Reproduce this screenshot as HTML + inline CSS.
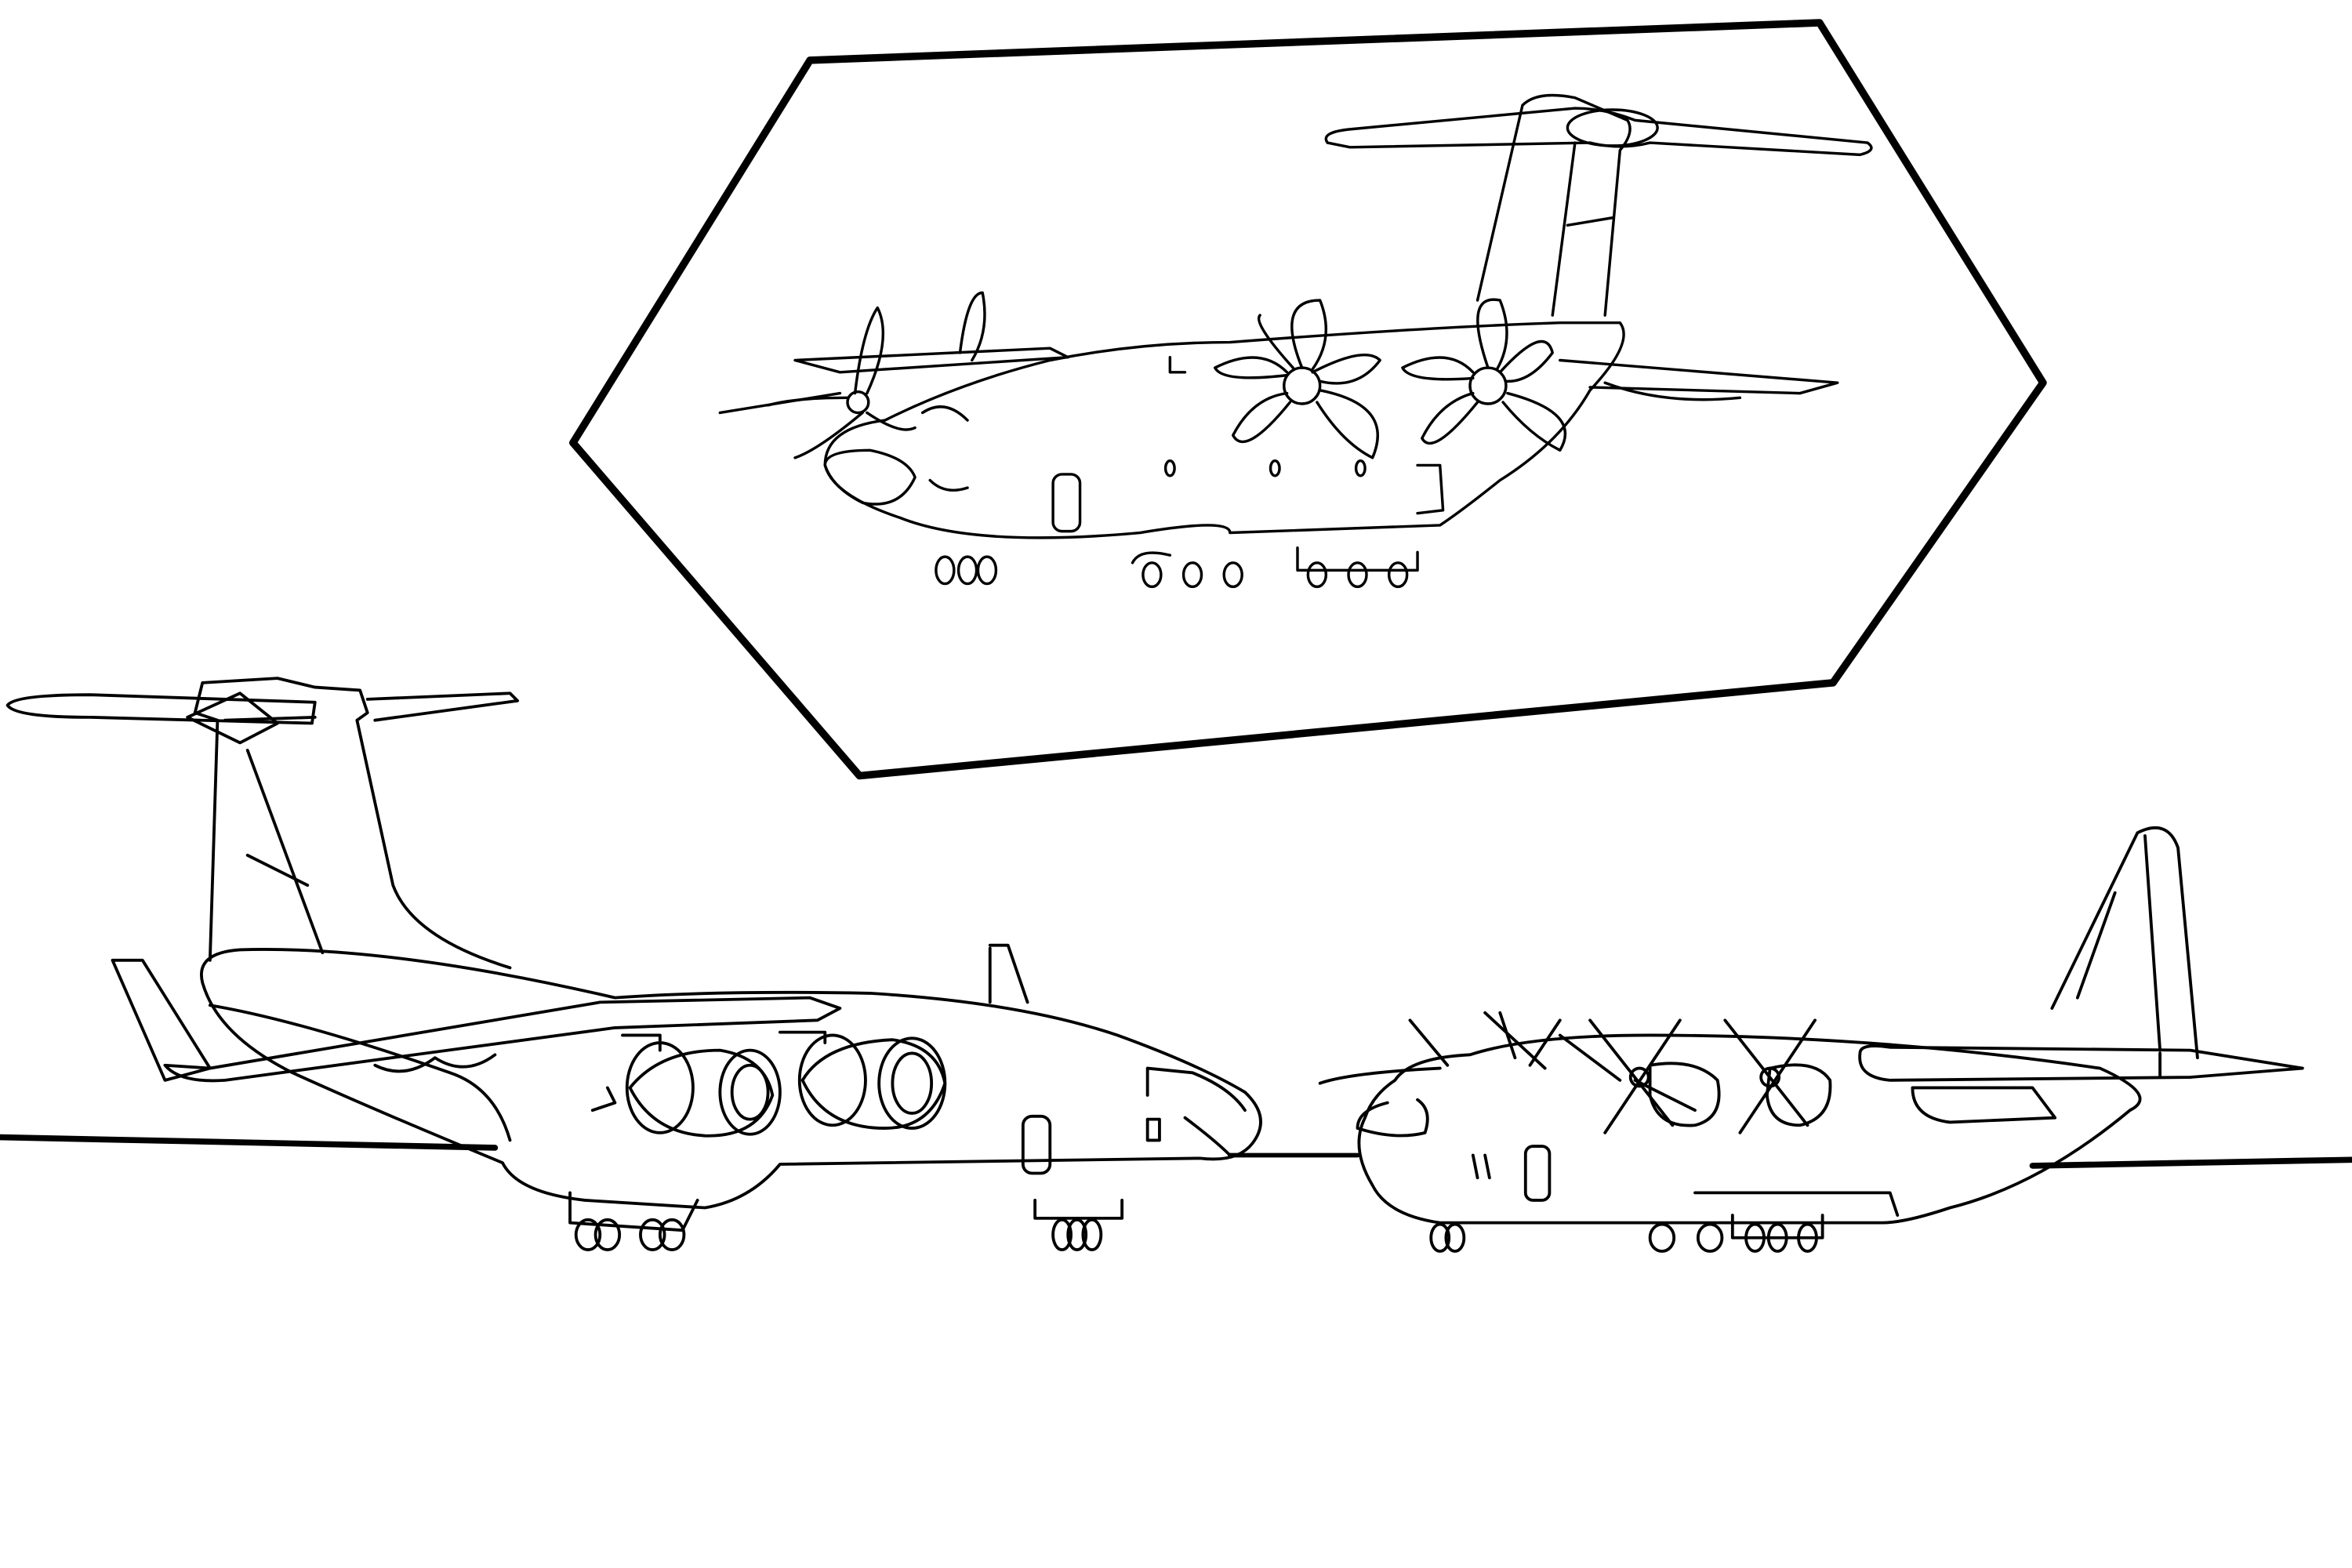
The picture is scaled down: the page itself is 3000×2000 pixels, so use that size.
<!DOCTYPE html>
<html><head><style>html,body{margin:0;padding:0;background:#fff}svg{display:block}</style></head>
<body>
<svg width="3000" height="2000" viewBox="0 0 1568 1045" xmlns="http://www.w3.org/2000/svg" fill="none" stroke="#000" stroke-linejoin="round" stroke-linecap="round">
<rect x="0" y="0" width="1568" height="1045" fill="#fff" stroke="none"/>
<!-- hexagon frame -->
<path d="M540,40 L1213,15 L1362,255 L1222,455 L573,517 L382,295 Z" stroke-width="5"/>
<!-- ground -->
<path d="M0,758 L330,765" stroke-width="4"/>
<path d="M820,770 L905,770" stroke-width="3"/>
<path d="M1355,777 L1568,773" stroke-width="4"/>

<!-- LEFT PLANE (jet) -->
<g stroke-width="2">
 <!-- tail fin -->
 <path d="M140,640 L145,480 L130,475 L135,455 L185,452 L210,458 L240,460 L245,475 L238,480 L262,590 Q275,625 340,645"/>
 <path d="M150,480 L210,478 M165,500 L215,635 M165,570 L205,590"/>
 <!-- horizontal stabilizer -->
 <path d="M5,470 Q10,463 60,463 L210,468 L208,482 L60,478 Q10,478 5,470 Z"/>
 <path d="M245,466 L340,462 L345,467 L250,480"/>
 <path d="M125,478 L160,495 L185,482 L160,462 Z"/>
 <!-- rear stab lower -->
 <path d="M75,640 L95,640 L140,712 L110,720 Z"/>
 <!-- fuselage -->
 <path d="M135,655 Q130,635 160,633 Q260,630 410,665 Q480,660 580,662 Q680,668 745,690 Q800,710 830,728 Q848,745 835,762 Q825,775 800,772 L520,776 Q500,800 470,805 L390,800 Q345,795 335,775 Q250,740 195,715 Q145,690 135,655 Z"/>
 <path d="M140,670 Q200,680 300,715 Q330,725 340,760"/>
 <!-- wing -->
 <path d="M110,710 L140,712 L400,668 L540,665 L560,672 L545,680 L410,685 L150,720 Q120,722 110,710 Z"/>
 <path d="M250,710 Q270,720 290,705 Q310,718 330,703"/>
 <!-- dorsal fin -->
 <path d="M660,632 L660,668 M660,630 L672,630 L685,668"/>
 <!-- engines -->
 <ellipse cx="440" cy="725" rx="22" ry="30"/>
 <ellipse cx="500" cy="728" rx="20" ry="28"/>
 <ellipse cx="500" cy="728" rx="12" ry="18"/>
 <path d="M420,725 Q440,700 480,700 Q510,705 515,730 Q505,758 470,757 Q435,755 420,725"/>
 <ellipse cx="555" cy="720" rx="22" ry="30"/>
 <ellipse cx="608" cy="722" rx="22" ry="30"/>
 <ellipse cx="608" cy="722" rx="13" ry="20"/>
 <path d="M535,720 Q550,695 595,693 Q625,697 630,722 Q620,752 590,752 Q550,752 535,720"/>
 <path d="M415,690 L440,690 L440,700 M520,688 L550,688 L550,695 M395,740 L410,735 L405,725"/>
 <!-- nose face -->
 <path d="M765,730 L765,712 L795,715 Q820,725 830,740"/>
 <path d="M790,745 Q810,760 820,770"/>
 <rect x="682" y="744" width="18" height="38" rx="6"/>
 <rect x="765" y="746" width="8" height="14"/>
 <!-- main gear pod -->
 <path d="M380,795 L380,815 L455,820 L465,800"/>
 <!-- wheels -->
 <g>
  <ellipse cx="392" cy="823" rx="8" ry="10"/><ellipse cx="405" cy="823" rx="8" ry="10"/>
  <ellipse cx="435" cy="823" rx="8" ry="10"/><ellipse cx="448" cy="823" rx="8" ry="10"/>
  <path d="M690,800 L690,812 L748,812 L748,800"/>
  <ellipse cx="708" cy="823" rx="6" ry="10"/><ellipse cx="718" cy="823" rx="6" ry="10"/><ellipse cx="728" cy="823" rx="6" ry="10"/>
 </g>
</g>

<!-- RIGHT PLANE (turboprop) -->
<g stroke-width="2">
 <!-- tail fin -->
 <path d="M1368,672 L1425,555 Q1445,545 1452,565 L1465,705"/>
 <path d="M1430,557 L1440,700 M1410,595 L1385,665"/>
 <!-- horizontal stabilizer -->
 <path d="M1240,702 Q1240,695 1260,698 L1460,700 L1535,712 L1460,718 L1260,720 Q1238,718 1240,702 Z"/>
 <path d="M1440,702 L1440,718"/>
 <!-- fuselage -->
 <path d="M930,720 Q940,705 980,703 Q1020,690 1100,690 Q1250,690 1400,712 Q1440,730 1420,740 Q1360,790 1300,805 Q1270,815 1255,815 L960,815 Q925,810 915,790 Q900,765 910,745 Q915,730 930,720 Z"/>
 <path d="M925,735 Q905,740 905,752 Q930,760 950,755 Q955,740 945,733"/>
 <path d="M1130,795 L1260,795 L1265,810"/>
 <!-- wing left portion -->
 <path d="M880,722 Q900,715 960,712"/>
 <!-- engine nacelles -->
 <path d="M1275,725 Q1275,745 1300,748 L1370,745 L1355,725 Z"/>
 <path d="M1100,710 Q1130,705 1145,720 Q1150,745 1130,750 Q1105,752 1100,730 Z"/>
 <path d="M1180,712 Q1210,705 1220,720 Q1222,745 1200,750 Q1180,750 1178,730 Z"/>
 <!-- propellers -->
 <path d="M1060,680 L1115,750 M1120,680 L1070,755 M1040,690 L1080,720 M1090,720 L1130,740"/>
 <circle cx="1093" cy="718" r="6"/>
 <path d="M1150,680 L1205,750 M1210,680 L1160,755"/>
 <circle cx="1180" cy="718" r="6"/>
 <path d="M940,680 L965,710 M1000,675 L1010,705 M990,675 L1030,712 M1040,680 L1020,710"/>
 <!-- windows -->
 <path d="M982,770 L985,785 M990,770 L993,785"/>
 <rect x="1017" y="764" width="16" height="36" rx="5"/>
 <!-- wheels -->
 <ellipse cx="960" cy="825" rx="6" ry="9"/><ellipse cx="970" cy="825" rx="6" ry="9"/>
 <path d="M1155,810 L1155,825 L1215,825 L1215,810"/>
 <ellipse cx="1108" cy="825" rx="8" ry="9"/><ellipse cx="1140" cy="825" rx="8" ry="9"/>
 <ellipse cx="1170" cy="825" rx="6" ry="9"/><ellipse cx="1185" cy="825" rx="6" ry="9"/><ellipse cx="1205" cy="825" rx="6" ry="9"/>
</g>

<!-- TOP PLANE (A400M) -->
<g stroke-width="1.8">
 <!-- tail fin -->
 <path d="M985,200 L1015,70 Q1025,60 1050,65 L1085,80 Q1090,88 1080,100 L1070,210"/>
 <path d="M1050,95 L1035,210 M1045,150 L1075,145"/>
 <!-- horizontal stab -->
 <path d="M885,95 Q880,88 900,86 L1050,72 Q1070,72 1090,80 L1245,95 Q1252,100 1240,103 L1100,95 Q1080,100 1060,95 L900,98 Z"/>
 <ellipse cx="1075" cy="85" rx="30" ry="12"/>
 <!-- fuselage -->
 <path d="M550,310 Q550,285 590,280 Q640,255 700,240 Q760,228 820,228 Q950,218 1040,215 L1080,215 Q1090,228 1060,260 Q1040,295 1000,320 Q975,340 960,350 L820,355 Q820,345 760,355 Q650,365 600,345 Q555,330 550,310 Z"/>
 <path d="M550,310 Q550,300 580,300 Q605,305 610,318 Q600,340 575,335 Q555,325 550,310"/>
 <!-- wing -->
 <path d="M530,240 L700,232 L712,238 L560,248 Z"/>
 <path d="M480,275 L560,262"/>
 <path d="M1040,240 L1225,255 L1200,262 L1060,258"/>
 <path d="M1070,255 Q1110,270 1160,265"/>
 <!-- propellers -->
 <circle cx="868" cy="257" r="12"/>
 <path d="M868,245 Q850,200 880,200 Q890,225 875,246 M880,260 Q930,270 915,305 Q895,295 878,268 M860,268 Q830,305 822,290 Q835,265 858,262 M858,250 Q815,255 810,245 Q840,230 858,248 M875,248 Q910,230 920,240 Q905,260 880,254 M862,245 Q835,215 840,210"/>
 <circle cx="992" cy="257" r="12"/>
 <path d="M992,245 Q975,195 1000,200 Q1010,225 998,246 M1005,262 Q1055,275 1040,300 Q1020,290 1002,268 M985,268 Q955,305 948,292 Q960,268 982,262 M982,252 Q940,255 935,245 Q965,230 982,248 M1000,248 Q1030,215 1035,235 Q1020,255 1004,254"/>
 <circle cx="572" cy="268" r="7"/>
 <path d="M570,262 Q575,220 585,205 Q595,225 578,262 M640,235 Q645,195 655,195 Q660,220 648,240 M575,275 Q545,300 530,305 M578,275 Q600,290 610,285 M565,265 Q530,265 512,270"/>
 <!-- face -->
 <path d="M615,275 Q630,265 645,280"/>
 <path d="M620,320 Q630,330 645,325"/>
 <rect x="702" y="316" width="18" height="38" rx="6"/>
 <ellipse cx="780" cy="312" rx="3" ry="5"/><ellipse cx="850" cy="312" rx="3" ry="5"/><ellipse cx="907" cy="312" rx="3" ry="5"/>
 <path d="M945,310 L960,310 L962,340 L945,342"/>
 <path d="M780,238 L780,248 L790,248"/>
 <!-- gear pods -->
 <path d="M865,365 L865,380 L945,380 L945,368"/>
 <path d="M755,375 Q760,365 780,370"/>
 <!-- wheels -->
 <ellipse cx="630" cy="380" rx="6" ry="9"/><ellipse cx="645" cy="380" rx="6" ry="9"/><ellipse cx="658" cy="380" rx="6" ry="9"/>
 <ellipse cx="768" cy="383" rx="6" ry="8"/><ellipse cx="795" cy="383" rx="6" ry="8"/><ellipse cx="822" cy="383" rx="6" ry="8"/>
 <ellipse cx="878" cy="383" rx="6" ry="8"/><ellipse cx="905" cy="383" rx="6" ry="8"/><ellipse cx="932" cy="383" rx="6" ry="8"/>
</g>
</svg>
</body></html>
